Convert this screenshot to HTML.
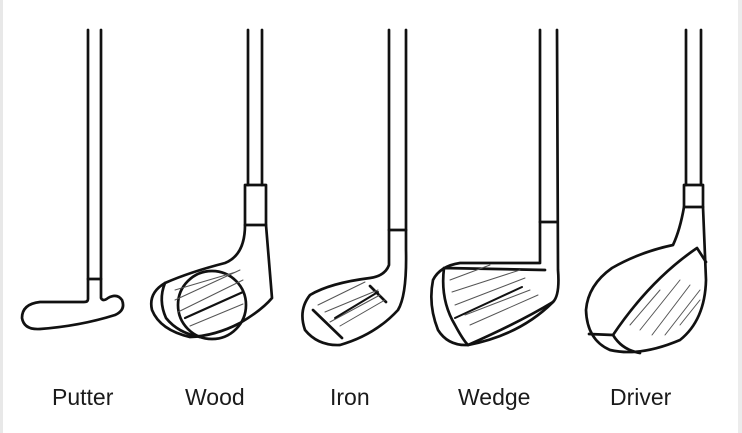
<!DOCTYPE html>
<html><head><style>
html,body{margin:0;padding:0;background:#fff;}
.w{position:relative;width:742px;height:433px;overflow:hidden;background:#fff;}
.l{position:absolute;left:0;top:0;width:3px;height:433px;background:#e8e8e8;}
.r{position:absolute;right:0;top:0;width:4px;height:433px;background:#ececec;}
svg{position:absolute;left:0;top:0;}
text{font-family:"Liberation Sans",sans-serif;font-size:23px;fill:#1a1a1a;font-weight:500;}
</style></head><body><div class="w"><div class="l"></div><div class="r"></div>
<svg width="742" height="433" viewBox="0 0 742 433" fill="none" stroke="#111" stroke-width="2.7" stroke-linecap="round" stroke-linejoin="round">
<!-- Putter -->
<path d="M88 30 V299 Q88 302 84 302 H40 Q22 304 22 318 Q24 330 40 329 Q80 326 115 315 Q126 310 122 300 Q117 293 108 298 Q103 302 101 298 V30"/>
<path d="M88 279 H101"/>
<!-- Wood -->
<path d="M248 30 V185 M262 30 V185"/>
<path d="M245 185 H266 V225 H245 Z"/>
<path d="M245 225 Q245 255 225 263 Q190 272 165 283 Q148 293 152 310 Q160 330 190 337 Q215 336 240 323 Q262 310 272 298 L266 225"/>
<path d="M165 283 Q158 300 166 318 Q178 333 200 337"/>
<circle cx="212" cy="305" r="34"/>
<g stroke-width="1" stroke="#555"><path d="M175 300 L240 270 M178 312 L243 280 M185 318 L244 292 M190 326 L243 304 M175 290 L236 272"/></g>
<path d="M185 318 L243 292" stroke-width="2.2"/>
<!-- Iron -->
<path d="M389 30 V265 Q385 276 370 278 Q330 283 310 295 Q298 310 305 330 Q318 346 340 345 Q375 335 398 310 Q407 295 406 250 V30"/>
<path d="M389 230 H406"/>
<path d="M313 310 L342 338 M370 286 L386 302"/>
<g stroke-width="1" stroke="#555"><path d="M318 305 L365 282 M325 312 L378 290 M330 322 L380 295 M340 326 L385 300"/></g>
<path d="M335 318 L378 292" stroke-width="2"/>
<!-- Wedge -->
<path d="M540 30 V263 H460 Q440 266 433 280 Q428 305 438 330 Q448 346 468 345 Q520 335 553 302 Q560 295 558 270 L557 30"/>
<path d="M540 222 H557"/>
<path d="M444 268 Q440 300 455 325 Q463 340 468 345 M444 268 L545 270 M468 345 Q520 322 553 302"/>
<g stroke-width="1" stroke="#555"><path d="M450 280 L490 265 M452 292 L520 270 M455 305 L525 278 M465 315 L530 290 M470 325 L538 295"/></g>
<path d="M455 318 L522 287" stroke-width="2"/>
<!-- Driver -->
<path d="M686 30 V185 M701 30 V185"/>
<path d="M684 185 H703 V207 H684 Z"/>
<path d="M684 207 Q680 230 673 245 Q640 252 612 268 Q588 285 586 310 Q587 340 610 350 Q640 357 680 340 Q705 320 706 280 L703 207"/>
<path d="M697 248 Q650 280 613 335 L589 334 M613 335 Q622 350 640 353 M697 248 L706 262"/>
<g stroke-width="1" stroke="#555"><path d="M630 325 L660 290 M640 330 L680 280 M652 335 L690 285 M665 335 L700 290 M680 325 L700 300"/></g>
<g stroke="none"><text x="52" y="405">Putter</text><text x="185" y="405">Wood</text><text x="330" y="405">Iron</text><text x="458" y="405">Wedge</text><text x="610" y="405">Driver</text></g>
</svg></div></body></html>
